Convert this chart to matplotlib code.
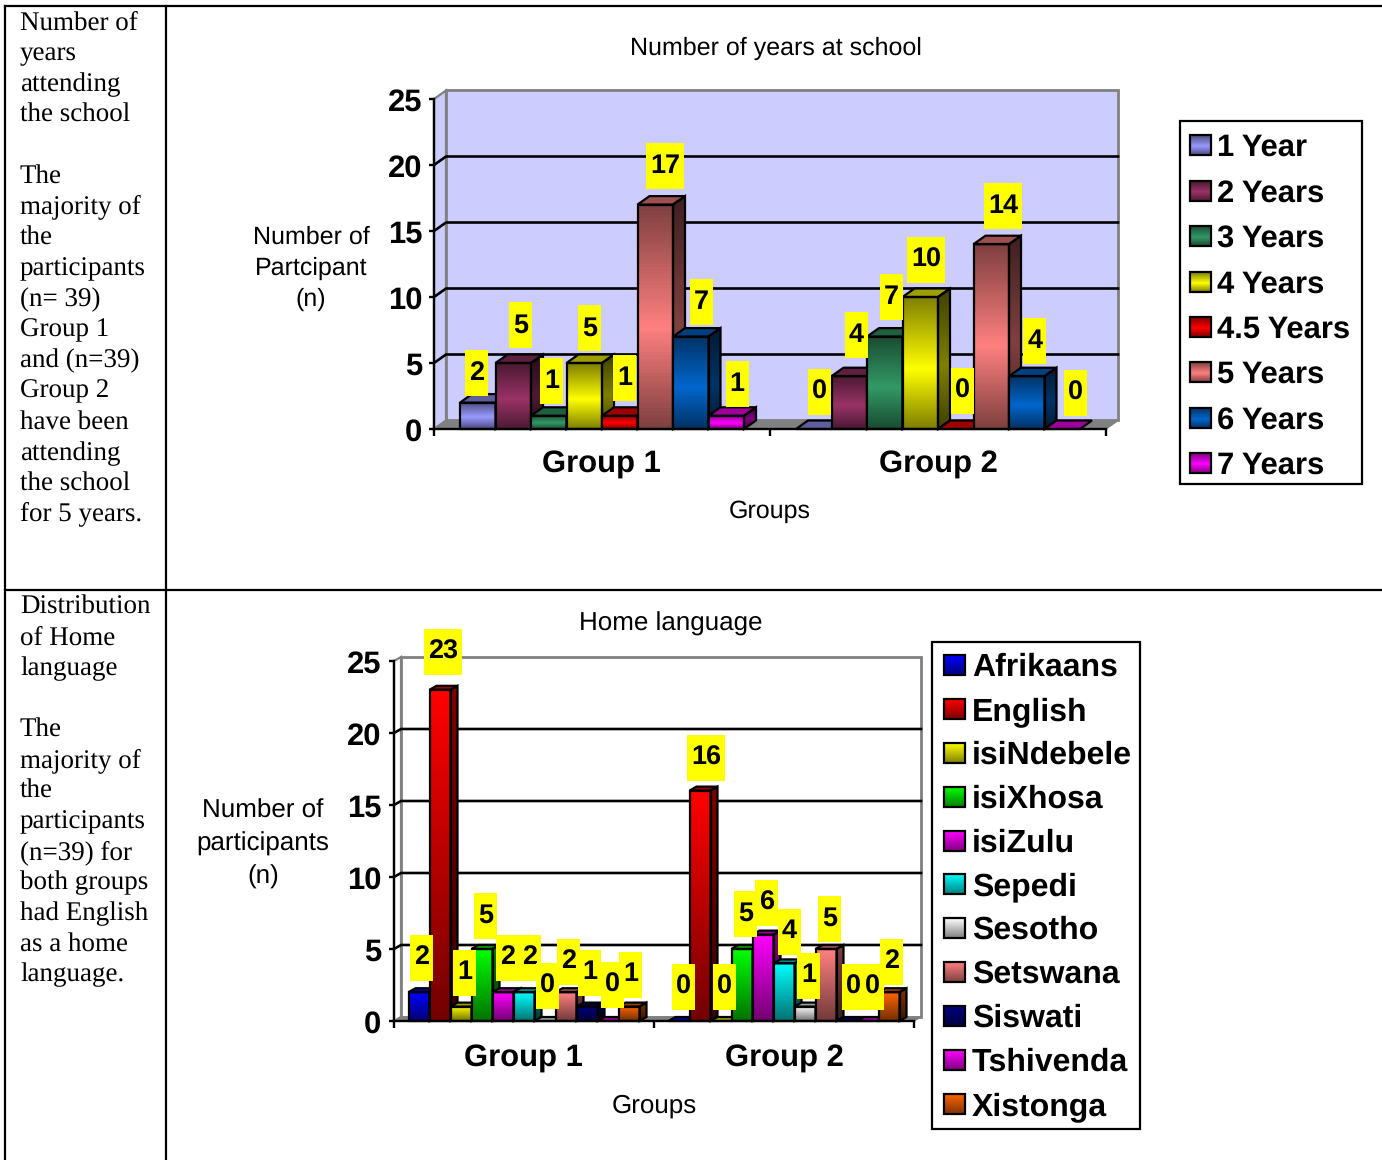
import numpy as np
from matplotlib import pyplot as plt
from matplotlib.colors import LinearSegmentedColormap, to_rgb
from matplotlib.patches import Polygon, Rectangle
from matplotlib.path import Path

plt.rcParams['font.family'] = ['Liberation Sans', 'DejaVu Sans']
plt.rcParams['text.hinting'] = 'no_hinting'
plt.rcParams['text.hinting_factor'] = 1

W = 1382
H = 1160

### school years chart
groups = ['Group 1', 'Group 2']
years_names = ['1 Year', '2 Years', '3 Years', '4 Years', '4.5 Years', '5 Years', '6 Years', '7 Years']
years_colors = ['#9999FF', '#993366', '#339966', '#FFFF00', '#FF0000', '#FF8080', '#0066CC', '#FF00FF']
years_g1 = [2, 5, 1, 5, 1, 17, 7, 1]
years_g2 = [0, 4, 7, 10, 0, 14, 4, 0]
# label shift from bar top centre, pixels
years_nudge = [(-1, 30), (7, 37.5), (3, 35), (5, 34.5), (5, 38), (10, 39), (11, 35), (11, 32),
               (6, 37), (7, 41), (7, 40), (6, 37), (7, 38), (12, 38), (8, 35), (13, 36)]

### language chart
lang_names = ['Afrikaans', 'English', 'isiNdebele', 'isiXhosa', 'isiZulu', 'Sepedi', 'Sesotho',
              'Setswana', 'Siswati', 'Tshivenda', 'Xistonga']
lang_colors = ['#0000FF', '#FF0000', '#FFFF00', '#00FF00', '#FF00FF', '#00FFFF', '#FFFFFF',
               '#FF8080', '#000080', '#FF00FF', '#FF6600']
lang_g1 = [2, 23, 1, 5, 2, 2, 0, 2, 1, 0, 1]
lang_g2 = [0, 16, 0, 5, 6, 4, 1, 5, 0, 0, 2]
lang_nudge = [(2.5, 34.7), (3, 38.3), (3.5, 34.1), (3.5, 33.5), (4.5, 34.7), (5.5, 34.7), (2.5, 35.5),
              (2.5, 30.7), (2.5, 34.1), (4.5, 36.5), (1.5, 32.1),
              (4.5, 34.5), (6, 32.4), (3.5, 34.5), (3.5, 35.5), (3.5, 32.1), (5.5, 31.9), (3.5, 31.1),
              (3.5, 30.5), (6.5, 34.5), (4, 34.5), (2.5, 30.7)]

### text of the left column
notes_top = [('Number of', 23), ('years', 54), ('attending', 85), ('the school', 115),
             ('The', 177), ('majority of', 207), ('the', 238), ('participants', 269),
             ('(n= 39)', 300), ('Group 1', 330), ('and (n=39)', 361), ('Group 2', 391),
             ('have been', 423), ('attending', 454), ('the school', 484), ('for 5 years.', 514)]
notes_bottom = [('Distribution', 607), ('of Home', 638), ('language', 669),
                ('The', 730), ('majority of', 761), ('the', 791), ('participants', 822),
                ('(n=39) for', 853), ('both groups', 883), ('had English', 914),
                ('as a home', 945), ('language.', 975)]


def px_axes(fig, left, right, top, bottom):
	return fig.add_axes([left / W, 1 - bottom / H, (right - left) / W, (bottom - top) / H])


def shade(color, low, fade):
	rgb = np.array(to_rgb(color))
	if fade:
		# full colour on top, dark at the foot
		return LinearSegmentedColormap.from_list('s', [rgb, rgb * low])
	# dark at both ends, full colour a bit under the middle
	return LinearSegmentedColormap.from_list('s', [(0, rgb * low), (0.55, rgb), (1, rgb * low)])


GRAD = np.linspace(0, 1, 64).reshape(-1, 1)


def label_box(x0, y0, width, height, mutation_size):
	# tall box round the number, as the chart program draws it
	cy = y0 + height / 2
	x = x0 - 4
	r = x0 + width + 4
	b = cy - 23
	t = cy + 23
	return Path([(x, b), (r, b), (r, t), (x, t), (x, b)], closed=True)


def draw_bar(ax, x, w, v, color, ddx, ddy, z, fade):
	dark = np.array(to_rgb(color)) * 0.5
	front = Rectangle((x, 0), w, v, fc='none', ec='black', lw=1.6, zorder=z + 0.3, clip_on=False)
	side = Polygon([(x + w, 0), (x + w + ddx, ddy), (x + w + ddx, v + ddy), (x + w, v)],
		fc='none', ec='black', lw=1.6, zorder=z + 0.3, clip_on=False)
	top = Polygon([(x, v), (x + ddx, v + ddy), (x + w + ddx, v + ddy), (x + w, v)],
		fc=np.array(to_rgb(color)) * 0.62, ec='black', lw=1.6, zorder=z + 0.2, clip_on=False)
	ax.add_patch(top)
	if v > 0:
		low = 0.45 if fade else 0.5
		ax.imshow(GRAD, cmap=shade(color, low, fade), extent=(x, x + w, 0, v), aspect='auto', zorder=z, clip_on=False)
		ims = ax.imshow(GRAD, cmap=shade(dark, low, fade),
			extent=(x + w, x + w + ddx, 0, v + ddy), aspect='auto', zorder=z + 0.1)
		ax.add_patch(front)
		ax.add_patch(side)
		ims.set_clip_box(None)
		ims.set_clip_path(side)


def chart(ax, names, colors, g1, g2, nudge, wall, gap, ddx, ddy, fade, xpad, ypad):
	n = len(names)
	w = (1 - 2 * gap) / n

	# walls and floor
	ax.add_patch(Polygon([(0, 0), (ddx, ddy), (ddx, 25 + ddy), (0, 25)], fc=wall, ec='#808080', lw=1.6, zorder=1, clip_on=False))
	ax.add_patch(Polygon([(ddx, ddy), (2 + ddx, ddy), (2 + ddx, 25 + ddy), (ddx, 25 + ddy)],
		fc=wall, ec='#808080', lw=2, zorder=1, clip_on=False))
	ax.add_patch(Polygon([(0, 0), (ddx, ddy), (2 + ddx, ddy), (2, 0)], fc='#808080', ec='#808080', lw=1, zorder=1, clip_on=False))
	for v in range(5, 25, 5):
		ax.plot([0, ddx, 2 + ddx], [v, v + ddy, v + ddy], color='black', lw=1.9, zorder=2, clip_on=False)

	k = 0
	for g, vals in enumerate([g1, g2]):
		for i, v in enumerate(vals):
			x = g + gap + i * w
			draw_bar(ax, x, w, v, colors[i], ddx, ddy, 3 + k * 0.5, fade)
			ax.annotate(str(v), (x + w / 2, v), xytext=nudge[k], textcoords='offset pixels',
				ha='center', va='center', fontsize=19.5, fontweight='bold', color='black', zorder=30,
				bbox=dict(boxstyle=label_box, fc='#FFFF00', ec='none'), annotation_clip=False)
			k += 1

	ax.set_xlim(0, 2)
	ax.set_ylim(0, 25)
	ax.patch.set_visible(False)
	for s in ['top', 'right']:
		ax.spines[s].set_visible(False)
	for s in ['left', 'bottom']:
		ax.spines[s].set_linewidth(1.7)
		ax.spines[s].set_zorder(25)
	ax.set_xticks([0, 1, 2])
	ax.set_xticklabels([])
	ax.set_xticks([0.497, 1.5], groups, minor=True)
	ax.set_yticks(range(0, 26, 5))
	ax.tick_params(axis='x', which='major', length=5, width=1.7, direction='out')
	ax.tick_params(axis='x', which='minor', length=0, labelsize=22.1, pad=xpad)
	ax.tick_params(axis='y', length=3.5, width=1.7, pad=ypad, labelsize=22)
	for t in ax.get_xticklabels(minor=True) + ax.get_yticklabels():
		t.set_fontweight('bold')


def legend_box(page, names, colors, left, right, top, bottom, rows, swatch_x, text_x, font, fade):
	page.add_patch(Rectangle((left, top), right - left, bottom - top, fc='white', ec='black', lw=1.6, zorder=5))
	for name, color, y in zip(names, colors, rows):
		page.imshow(GRAD, cmap=shade(color, 0.5, fade), extent=(swatch_x, swatch_x + 21, y + 10, y - 10), aspect='auto', zorder=6)
		page.add_patch(Rectangle((swatch_x, y - 10), 21, 20, fc='none', ec='black', lw=1.6, zorder=7))
		page.text(text_x, y - 0.5, name, fontsize=font, fontweight='bold', va='center_baseline', ha='left', zorder=7)


fig = plt.figure(figsize=(W / 100, H / 100), dpi=100)

# page table and text
page = fig.add_axes([0, 0, 1, 1])
for x0, y0, x1, y1 in [(5, 6, W, 6), (5, 590, W, 590), (5, 6, 5, H), (166, 6, 166, H)]:
	page.plot([x0, x1], [y0, y1], color='black', lw=1.6)
for line, y in notes_top + notes_bottom:
	page.text(20, y, line, family='Liberation Serif', fontsize=19.4, va='center', ha='left')

page.text(776, 48.5, 'Number of years at school', fontsize=18.3, ha='center', va='center')
page.text(770, 511, 'Groups', fontsize=18.3, ha='center', va='center')
for line, y in [('Number of', 237.5), ('Partcipant', 268.5), ('(n)', 299.5)]:
	page.text(311, y, line, fontsize=18.3, ha='center', va='center')

page.text(671, 624, 'Home language', fontsize=18.9, ha='center', va='center')
page.text(654, 1106, 'Groups', fontsize=19, ha='center', va='center')
for line, y in [('Number of', 811), ('participants', 844), ('(n)', 877)]:
	page.text(263, y, line, fontsize=19, ha='center', va='center')

legend_box(page, years_names, years_colors, 1180, 1362, 121, 484,
	[145, 191, 236, 282, 327, 372, 418, 463], 1190, 1217, 22.1, False)
legend_box(page, lang_names, lang_colors, 932, 1140, 642, 1129,
	[665, 709, 753, 797, 841, 884, 928, 972, 1016, 1060, 1104], 944, 972, 22.9, True)
page.set_xlim(0, W)
page.set_ylim(H, 0)
page.axis('off')

ax1 = px_axes(fig, 434, 1106, 99, 429)
chart(ax1, years_names, years_colors, years_g1, years_g2, years_nudge,
	'#CCCCFF', 26 / 336, 12 / 336, 8.5 / 13.2, False, 15.5, 5)

ax2 = px_axes(fig, 394, 914, 661, 1021)
chart(ax2, lang_names, lang_colors, lang_g1, lang_g2, lang_nudge,
	'white', 14.5 / 260, 7 / 260, 4 / 14.4, True, 16.5, 5.7)

fig.savefig('out.png', dpi=100)
